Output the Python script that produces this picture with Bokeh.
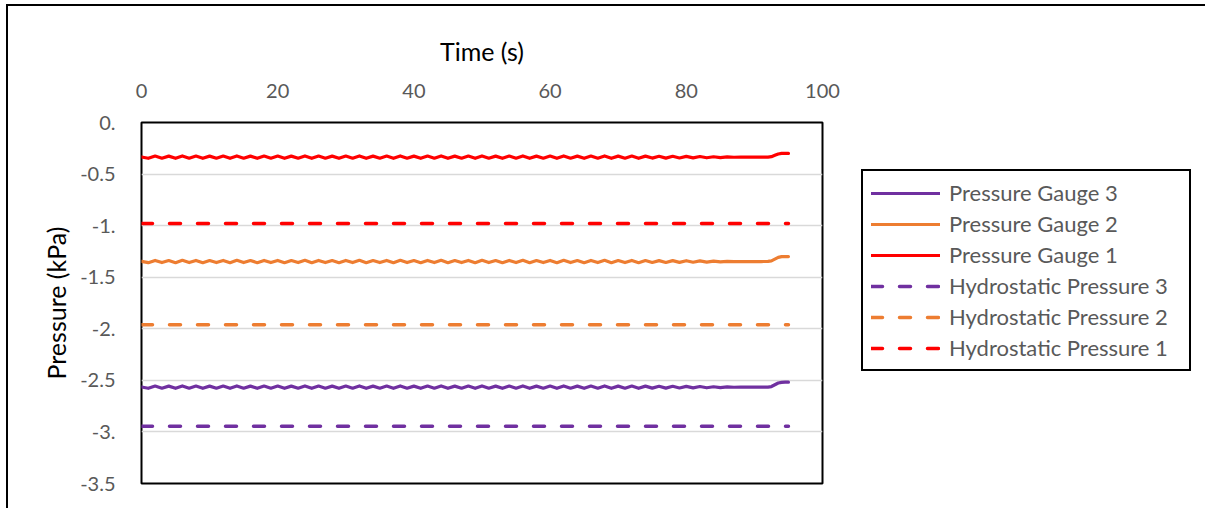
from bokeh.plotting import figure
from bokeh.layouts import row
from bokeh.models import Legend, LegendItem, FixedTicker, CustomJSTickFormatter
from bokeh.embed import file_html
from bokeh.resources import INLINE

# ---- data ----
TIME = [0, 1, 2, 3, 4, 5, 6, 7, 8, 9,
        10, 11, 12, 13, 14, 15, 16, 17, 18, 19,
        20, 21, 22, 23, 24, 25, 26, 27, 28, 29,
        30, 31, 32, 33, 34, 35, 36, 37, 38, 39,
        40, 41, 42, 43, 44, 45, 46, 47, 48, 49,
        50, 51, 52, 53, 54, 55, 56, 57, 58, 59,
        60, 61, 62, 63, 64, 65, 66, 67, 68, 69,
        70, 71, 72, 73, 74, 75, 76, 77, 78, 79,
        80, 81, 82, 83, 84, 85, 86, 87, 88, 89,
        90, 91, 92, 92.5, 93, 93.5, 94, 94.5, 95]

GAUGE_1 = [-0.334, -0.347, -0.325, -0.346, -0.326, -0.347, -0.324, -0.346, -0.325, -0.347,
           -0.326, -0.346, -0.325, -0.347, -0.324, -0.346, -0.326, -0.347, -0.325, -0.346,
           -0.325, -0.347, -0.326, -0.346, -0.324, -0.347, -0.325, -0.346, -0.326, -0.347,
           -0.325, -0.346, -0.324, -0.347, -0.326, -0.346, -0.325, -0.347, -0.324, -0.346,
           -0.326, -0.347, -0.325, -0.346, -0.324, -0.347, -0.326, -0.346, -0.325, -0.347,
           -0.324, -0.346, -0.326, -0.347, -0.325, -0.346, -0.324, -0.347, -0.326, -0.346,
           -0.325, -0.347, -0.324, -0.346, -0.326, -0.347, -0.325, -0.346, -0.324, -0.347,
           -0.326, -0.346, -0.325, -0.347, -0.326, -0.345, -0.327, -0.345, -0.327, -0.344,
           -0.328, -0.343, -0.330, -0.342, -0.332, -0.340, -0.334, -0.337, -0.336, -0.336,
           -0.336, -0.336, -0.335, -0.331, -0.318, -0.305, -0.299, -0.298, -0.299]

GAUGE_2 = [-1.346, -1.359, -1.337, -1.358, -1.338, -1.359, -1.336, -1.358, -1.337, -1.359,
           -1.338, -1.358, -1.337, -1.359, -1.336, -1.358, -1.338, -1.359, -1.337, -1.358,
           -1.337, -1.359, -1.338, -1.358, -1.336, -1.359, -1.337, -1.358, -1.338, -1.359,
           -1.337, -1.358, -1.336, -1.359, -1.338, -1.358, -1.337, -1.359, -1.336, -1.358,
           -1.338, -1.359, -1.337, -1.358, -1.336, -1.359, -1.338, -1.358, -1.337, -1.359,
           -1.336, -1.358, -1.338, -1.359, -1.337, -1.358, -1.336, -1.359, -1.338, -1.358,
           -1.337, -1.359, -1.336, -1.358, -1.338, -1.359, -1.337, -1.358, -1.336, -1.359,
           -1.338, -1.358, -1.337, -1.359, -1.338, -1.357, -1.339, -1.357, -1.339, -1.356,
           -1.340, -1.355, -1.342, -1.354, -1.344, -1.352, -1.346, -1.349, -1.348, -1.348,
           -1.348, -1.348, -1.347, -1.342, -1.325, -1.308, -1.301, -1.300, -1.300]

GAUGE_3 = [-2.564, -2.577, -2.555, -2.576, -2.556, -2.577, -2.554, -2.576, -2.555, -2.577,
           -2.556, -2.576, -2.555, -2.577, -2.554, -2.576, -2.556, -2.577, -2.555, -2.576,
           -2.555, -2.577, -2.556, -2.576, -2.554, -2.577, -2.555, -2.576, -2.556, -2.577,
           -2.555, -2.576, -2.554, -2.577, -2.556, -2.576, -2.555, -2.577, -2.554, -2.576,
           -2.556, -2.577, -2.555, -2.576, -2.554, -2.577, -2.556, -2.576, -2.555, -2.577,
           -2.554, -2.576, -2.556, -2.577, -2.555, -2.576, -2.554, -2.577, -2.556, -2.576,
           -2.555, -2.577, -2.554, -2.576, -2.556, -2.577, -2.555, -2.576, -2.554, -2.577,
           -2.556, -2.576, -2.555, -2.577, -2.556, -2.575, -2.557, -2.575, -2.557, -2.574,
           -2.558, -2.573, -2.560, -2.572, -2.562, -2.570, -2.564, -2.567, -2.566, -2.566,
           -2.566, -2.566, -2.565, -2.560, -2.543, -2.526, -2.519, -2.518, -2.518]

HYDRO_TIME = [0, 95]
HYDRO_1 = [-0.98, -0.98]
HYDRO_2 = [-1.96, -1.96]
HYDRO_3 = [-2.945, -2.945]

X_TICKS = [0, 20, 40, 60, 80, 100]
Y_TICKS = [0, -0.5, -1, -1.5, -2, -2.5, -3, -3.5]

LABELS = ["Pressure Gauge 3", "Pressure Gauge 2", "Pressure Gauge 1",
          "Hydrostatic Pressure 3", "Hydrostatic Pressure 2", "Hydrostatic Pressure 1"]

RED = "#FF0000"
ORANGE = "#ED7D31"
PURPLE = "#7030A0"
FONT = "Lato"
TICK_COLOR = "#595959"

H = 502
PW = 852
QW = 1197 - PW

p = figure(width=PW, height=H, output_backend="svg", toolbar_location=None,
           x_range=(0, 100), y_range=(-3.5, 0), x_axis_location="above",
           min_border_left=133, min_border_top=116,
           min_border_right=38, min_border_bottom=H - 477)

p.outline_line_color = "black"
p.outline_line_width = 2
p.background_fill_color = "white"
p.border_fill_color = "white"

p.xgrid.grid_line_color = None
p.ygrid.grid_line_color = "#D9D9D9"
p.ygrid.grid_line_width = 1.5

p.xaxis.ticker = FixedTicker(ticks=X_TICKS)
p.yaxis.ticker = FixedTicker(ticks=Y_TICKS)
p.yaxis.formatter = CustomJSTickFormatter(code="""
    return (Math.abs(tick % 1) < 1e-9) ? (Math.round(tick)).toFixed(0) + "." : tick.toFixed(1);
""")

for ax in (p.xaxis[0], p.yaxis[0]):
    ax.axis_line_color = None
    ax.major_tick_line_color = None
    ax.minor_tick_line_color = None
    ax.major_label_text_font = FONT
    ax.major_label_text_font_size = "20px"
    ax.major_label_text_color = TICK_COLOR
    ax.axis_label_text_font = FONT
    ax.axis_label_text_font_size = "25px"
    ax.axis_label_text_font_style = "normal"
    ax.axis_label_text_color = "black"

p.xaxis.axis_label = "Time (s)"
p.yaxis.axis_label = "Pressure (kPa)"
p.xaxis.major_label_standoff = 19
p.xaxis.axis_label_standoff = 15
p.yaxis.major_label_standoff = 20
p.yaxis.axis_label_standoff = 6

SOLID = dict(line_width=3.2, line_join="round", line_cap="round")
DASH = dict(line_width=3.5, line_dash="11 17", line_cap="round")

p.line(TIME, GAUGE_3, line_color=PURPLE, **SOLID)
p.line(TIME, GAUGE_2, line_color=ORANGE, **SOLID)
p.line(TIME, GAUGE_1, line_color=RED, **SOLID)
p.line(HYDRO_TIME, HYDRO_3, line_color=PURPLE, **DASH)
p.line(HYDRO_TIME, HYDRO_2, line_color=ORANGE, **DASH)
p.line(HYDRO_TIME, HYDRO_1, line_color=RED, **DASH)

# legend panel (separate figure so the legend is not clipped by the main frame)
q = figure(width=QW, height=H, output_backend="svg", toolbar_location=None,
           x_range=(0, 1), y_range=(0, 1), x_axis_location=None, y_axis_location=None,
           min_border_left=0, min_border_right=0, min_border_top=0, min_border_bottom=0)
q.outline_line_color = None
q.xgrid.grid_line_color = None
q.ygrid.grid_line_color = None
q.background_fill_color = "white"
q.border_fill_color = "white"

# legend-only proxy renderers, placed outside the visible range of the legend panel
PROXY_X = [-5, -4]
PROXY_Y = [-5, -4]
styles = [(PURPLE, SOLID), (ORANGE, SOLID), (RED, SOLID),
          (PURPLE, DASH), (ORANGE, DASH), (RED, DASH)]
items = []
for lab, (col, st) in zip(LABELS, styles):
    r = q.line(x=PROXY_X, y=PROXY_Y, line_color=col, **st)
    items.append(LegendItem(label=lab, renderers=[r]))

legend = Legend(items=items, location=(1, 112))
legend.label_text_font = FONT
legend.label_text_font_size = "22px"
legend.label_text_color = TICK_COLOR
legend.glyph_width = 69
legend.glyph_height = 20
legend.label_height = 20
legend.label_width = 232
legend.spacing = 4
legend.padding = 8
legend.margin = 0
legend.label_standoff = 9
legend.border_line_color = "black"
legend.border_line_alpha = 1
legend.border_line_width = 2
legend.background_fill_alpha = 1
q.add_layout(legend, "center")

layout = row(p, q, spacing=0)
layout.styles = {"margin-left": "6px", "margin-top": "4px",
                 "border-left": "2px solid black", "border-top": "2px solid black"}

open("out.html", "w").write(file_html(layout, INLINE))
